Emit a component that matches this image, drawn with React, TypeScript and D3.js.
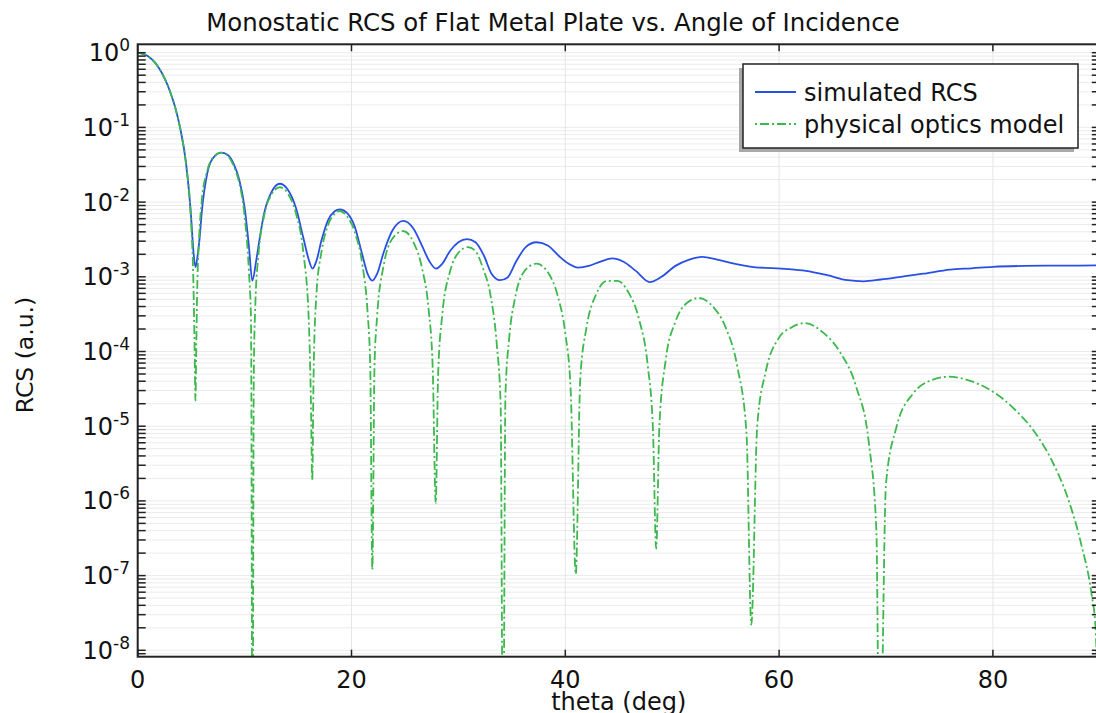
import React from "react";
import * as d3 from "d3";

const W = 1096, H = 713;

// simulated RCS (blue)
const simTheta = [0, 1, 2, 3, 3.5, 4, 4.5, 5.0, 5.2, 5.4, 5.6, 5.8, 6.0, 6.5, 7.0, 7.8, 8.4, 9.0, 9.5, 10.0, 10.4, 10.72, 11.1, 11.4, 11.8, 12.5, 13.3, 14.0, 14.8, 15.5, 16.0, 16.35, 16.7, 17.2, 17.8, 18.4, 18.9, 19.6, 20.3, 21.0, 21.5, 21.95, 22.4, 23.0, 23.8, 24.85, 25.8, 26.6, 27.3, 27.9, 28.5, 29.2, 30.0, 30.8, 31.6, 32.4, 33.1, 33.9, 34.6, 35.4, 36.3, 37.3, 38.4, 39.4, 40.3, 41.2, 42.2, 43.3, 44.4, 45.4, 46.6, 47.9, 49.0, 50.3, 51.6, 52.8, 54.2, 55.8, 57.8, 59.3, 60.8, 62.5, 64.5, 66.4, 67.9, 69.5, 71.4, 73.5, 76.0, 78.0, 80.0, 83.0, 86.0, 90.0];
const simRcs = [1, 0.89, 0.62, 0.31, 0.187, 0.094, 0.035, 0.0062, 0.0023, 0.00135, 0.0019, 0.0034, 0.0075, 0.024, 0.038, 0.046, 0.043, 0.032, 0.02, 0.0085, 0.0026, 0.00089, 0.0017, 0.0032, 0.0068, 0.0135, 0.0176, 0.0150, 0.0084, 0.0033, 0.0017, 0.00129, 0.0016, 0.0031, 0.0057, 0.0075, 0.008, 0.0071, 0.0047, 0.0020, 0.0011, 0.00089, 0.0011, 0.0021, 0.0041, 0.0056, 0.0044, 0.0026, 0.0016, 0.00129, 0.0015, 0.0022, 0.0029, 0.0032, 0.0029, 0.0019, 0.0011, 0.0009, 0.00098, 0.0016, 0.0025, 0.0029, 0.0026, 0.0019, 0.0015, 0.00133, 0.0014, 0.0016, 0.00176, 0.0016, 0.0012, 0.00085, 0.001, 0.0014, 0.0017, 0.00185, 0.0017, 0.0015, 0.00134, 0.00131, 0.00127, 0.0012, 0.00105, 0.0009, 0.00087, 0.00092, 0.001, 0.0011, 0.00125, 0.0013, 0.00136, 0.0014, 0.00141, 0.00142];

// physical optics model (green); 1e-10 marks nulls below the axis
const poTheta = [0, 1, 2, 3, 3.5, 4, 4.5, 5.0, 5.2, 5.32, 5.4, 5.48, 5.56, 5.75, 6.0, 6.5, 7.0, 7.8, 8.4, 9.0, 9.5, 10.0, 10.4, 10.6, 10.74, 10.86, 11.0, 11.3, 11.8, 12.5, 13.3, 14.0, 14.8, 15.5, 16.0, 16.2, 16.33, 16.45, 16.7, 17.2, 17.8, 18.4, 18.9, 19.6, 20.3, 21.0, 21.5, 21.75, 21.95, 22.15, 22.4, 23.0, 23.8, 24.85, 25.8, 26.6, 27.2, 27.6, 27.88, 28.1, 28.5, 29.2, 30.0, 30.9, 31.6, 32.3, 33.0, 33.6, 33.95, 34.18, 34.4, 34.75, 35.3, 36.2, 37.3, 38.4, 39.3, 40.0, 40.5, 40.98, 41.4, 42.0, 42.9, 43.9, 44.9, 45.9, 46.9, 47.7, 48.2, 48.5, 48.8, 49.4, 50.3, 51.4, 52.5, 53.8, 55.0, 56.1, 56.95, 57.4, 57.95, 58.75, 59.95, 61.15, 62.4, 64.1, 65.7, 67.2, 68.4, 69.1, 69.4, 70.0, 71.0, 72.5, 74.0, 75.9, 77.5, 80.0, 82.0, 84.0, 85.5, 87.0, 88.3, 89.2, 89.6, 90.0];
const poRcs = [1, 0.89, 0.62, 0.31, 0.186, 0.093, 0.034, 0.0052, 0.00097, 0.00012, 2.2e-5, 0.00011, 0.0006, 0.0034, 0.0107, 0.026, 0.039, 0.046, 0.042, 0.030, 0.018, 0.0065, 0.0012, 0.00026, 1e-10, 5e-5, 0.00041, 0.002, 0.0063, 0.0126, 0.0158, 0.0133, 0.0071, 0.0021, 0.00027, 2.3e-5, 1.9e-6, 4.5e-5, 0.00053, 0.0022, 0.0049, 0.0069, 0.0076, 0.0064, 0.004, 0.0015, 0.00034, 6.7e-5, 1.2e-7, 6.3e-5, 0.0003, 0.0014, 0.0032, 0.0041, 0.0029, 0.0013, 0.00038, 5.8e-5, 9.3e-7, 4.8e-5, 0.00032, 0.00115, 0.0021, 0.0025, 0.0022, 0.0013, 0.00057, 0.00012, 2e-5, 1e-10, 2.6e-5, 0.00015, 0.00052, 0.0012, 0.0015, 0.00113, 0.00055, 0.000175, 3.1e-5, 1.05e-7, 4.3e-5, 0.000215, 0.00059, 0.00088, 0.00088, 0.00062, 0.00027, 6.7e-5, 9e-6, 2.3e-7, 1e-5, 7.8e-5, 0.00025, 0.00045, 0.00052, 0.0004, 0.00021, 6.2e-5, 8e-6, 2.2e-8, 1e-5, 5.4e-5, 0.00015, 0.00021, 0.00024, 0.00018, 9.8e-5, 3.4e-5, 5.9e-6, 4e-7, 1e-10, 1.7e-6, 1e-5, 2.7e-5, 4e-5, 4.6e-5, 4.2e-5, 2.9e-5, 1.7e-5, 8e-6, 3.5e-6, 1.1e-6, 2.5e-7, 6e-8, 2e-8, 1e-10];

const xTicks = [0, 20, 40, 60, 80];
const yExps = [0, -1, -2, -3, -4, -5, -6, -7, -8];

const left = 137.7, right = 1099.8, top = 44.3, bottom = 656.7;

const x = d3.scaleLinear().domain([0, 90]).range([left, right]);
const y = d3.scaleLog().domain([1e-8, 1]).range([650.3, 52.7]);

const minorTicks: number[] = [];
for (let k = -9; k <= 0; k++) {
  for (let m = 1; m <= 9; m++) {
    const v = m * Math.pow(10, k);
    const py = y(v);
    if (py >= top + 0.5 && py <= bottom - 0.5) minorTicks.push(v);
  }
}

const blue = "#2a4fe4";
const green = "#3cb84c";
const font = "DejaVu Sans, sans-serif";

const line = d3
  .line<[number, number]>()
  .x(d => x(d[0]))
  .y(d => y(d[1]))
  .curve(d3.curveMonotoneX);

export default function App() {
  const sim = d3.zip(simTheta, simRcs) as [number, number][];
  const po = d3.zip(poTheta, poRcs) as [number, number][];

  return (
    <svg width={W} height={H} style={{ position: "absolute", left: 0, top: 0, background: "#fff" }} fontFamily={font}>
      <defs>
        <clipPath id="plot">
          <rect x={left} y={top} width={right - left} height={bottom - top} />
        </clipPath>
      </defs>
      <rect width={W} height={H} fill="#fff" />

      {/* grid */}
      {minorTicks.map((v, i) => (
        <line key={"gh" + i} x1={left} x2={right} y1={y(v)} y2={y(v)} stroke="#ebebeb" strokeWidth={1} />
      ))}
      {xTicks.slice(1).map(t => (
        <line key={"gv" + t} x1={x(t)} x2={x(t)} y1={top} y2={bottom} stroke="#e6e6e6" strokeWidth={1} />
      ))}

      {/* curves */}
      <g clipPath="url(#plot)">
        <path d={line(sim) || ""} fill="none" stroke={blue} strokeWidth={1.8} />
        <path d={line(po) || ""} fill="none" stroke={green} strokeWidth={1.8} strokeDasharray="9,3,2,3" />
      </g>

      {/* frame */}
      <rect x={left} y={top} width={right - left} height={bottom - top} fill="none" stroke="#222" strokeWidth={2} />

      {/* y ticks, both sides */}
      {minorTicks.map((v, i) => (
        <g key={"yt" + i}>
          <line x1={left} x2={left + 8} y1={y(v)} y2={y(v)} stroke="#222" strokeWidth={1.5} />
          <line x1={right} x2={right - 8} y1={y(v)} y2={y(v)} stroke="#222" strokeWidth={1.5} />
        </g>
      ))}
      {/* x ticks, top and bottom */}
      {xTicks.map(t => (
        <g key={"xt" + t}>
          <line x1={x(t)} x2={x(t)} y1={bottom} y2={bottom - 7} stroke="#222" strokeWidth={1.5} />
          <line x1={x(t)} x2={x(t)} y1={top} y2={top + 7} stroke="#222" strokeWidth={1.5} />
        </g>
      ))}

      {/* y tick labels */}
      {yExps.map(e => (
        <text key={"yl" + e} x={130} y={y(Math.pow(10, e)) + 8.5} textAnchor="end" fontSize={24} fill="#111">
          10
          <tspan dy={-10} fontSize={17}>{e === 0 ? "0" : "-" + -e}</tspan>
        </text>
      ))}
      {/* x tick labels */}
      {xTicks.map(t => (
        <text key={"xl" + t} x={x(t)} y={688} textAnchor="middle" fontSize={24} fill="#111">
          {t}
        </text>
      ))}

      {/* titles */}
      <text x={553} y={31} textAnchor="middle" fontSize={24.4} fill="#111">
        Monostatic RCS of Flat Metal Plate vs. Angle of Incidence
      </text>
      <text x={(left + right) / 2} y={710} textAnchor="middle" fontSize={24} fill="#111">
        theta (deg)
      </text>
      <text transform="translate(33,355) rotate(-90)" textAnchor="middle" fontSize={23.5} fill="#111">
        RCS (a.u.)
      </text>

      {/* legend */}
      <rect x={739} y={68} width={335} height={84} fill="#a8a8a8" />
      <rect x={743} y={64} width={335} height={84} fill="#fff" stroke="#222" strokeWidth={1.5} />
      <line x1={755} x2={796} y1={92} y2={92} stroke={blue} strokeWidth={1.8} />
      <line x1={755} x2={796} y1={124} y2={124} stroke={green} strokeWidth={1.8} strokeDasharray="2,3,9,3" />
      <text x={804} y={100.5} fontSize={24} fill="#111">simulated RCS</text>
      <text x={804} y={132.5} fontSize={24} fill="#111">physical optics model</text>
    </svg>
  );
}
